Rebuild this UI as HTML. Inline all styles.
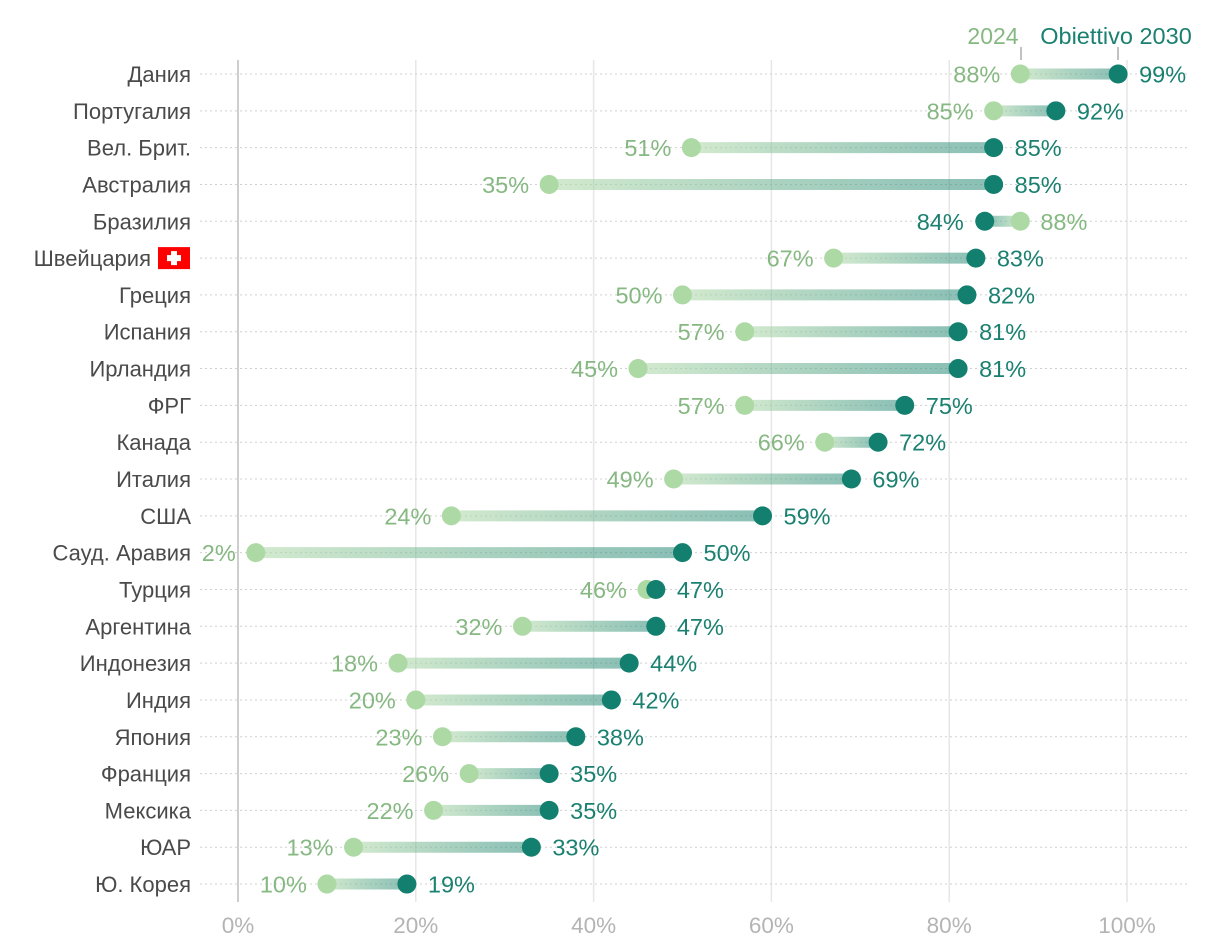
<!DOCTYPE html>
<html><head><meta charset="utf-8"><style>
html,body{margin:0;padding:0;background:#fff;}
svg{display:block;font-family:"Liberation Sans","DejaVu Sans",sans-serif;}
</style></head><body>
<svg id="chart" width="1220" height="946" xmlns="http://www.w3.org/2000/svg">
<defs id="defs"></defs>
<g id="grid"></g><g id="rows"></g><g id="axis"></g>
<g>
<text x="993" y="44" font-size="23" fill="#86b882" text-anchor="middle">2024</text>
<line x1="1021" y1="47" x2="1021" y2="60" stroke="#999" stroke-width="1.2"/>
<text x="1116" y="44" font-size="23.5" fill="#1a8070" text-anchor="middle">Obiettivo 2030</text>
<line x1="1118" y1="47" x2="1118" y2="60" stroke="#999" stroke-width="1.2"/>
</g>
</svg>
<script>
const countries=["Дания","Португалия","Вел. Брит.","Австралия","Бразилия","Швейцария","Греция","Испания","Ирландия","ФРГ","Канада","Италия","США","Сауд. Аравия","Турция","Аргентина","Индонезия","Индия","Япония","Франция","Мексика","ЮАР","Ю. Корея"];
const values2024=[88,85,51,35,88,67,50,57,45,57,66,49,24,2,46,32,18,20,23,26,22,13,10];
const target2030=[99,92,85,85,84,83,82,81,81,75,72,69,59,50,47,47,44,42,38,35,35,33,19];
const ticks=[0,20,40,60,80,100];
const NS="http://www.w3.org/2000/svg";
const x=v=>238+v*8.89;
const y=i=>74+i*36.82;
function mk(t,a,p){const e=document.createElementNS(NS,t);for(const k in a)e.setAttribute(k,a[k]);p.appendChild(e);return e;}
const grid=document.getElementById('grid'),rows=document.getElementById('rows'),axis=document.getElementById('axis'),defs=document.getElementById('defs');
ticks.forEach(t=>{
 const l=mk('line',{x1:x(t),x2:x(t),y1:60,y2:902,stroke:t===0?'#bdbdbd':'#e6e6e6','stroke-width':1.5},grid);
 
 
 const tx=mk('text',{x:x(t),y:933,'font-size':22.5,fill:'#b4b4b4','text-anchor':'middle'},axis);
 tx.textContent=t+'%';
 
 
});
countries.forEach((c,i)=>{
 const yy=y(i);
 const g=mk('g',{},rows);
 
 
 mk('line',{x1:200,x2:1188,y1:yy,y2:yy,stroke:'#d0d0d0','stroke-width':1,'stroke-dasharray':'2 3'},g);
 const isCH=c==="Швейцария";
 const lb=mk('text',{x:isCH?151:191,y:yy+8,'font-size':22,fill:'#4a4a4a','text-anchor':'end'},g);
 lb.textContent=c;
 
 
 if(isCH){
  mk('rect',{x:158,y:yy-11,width:32,height:22,fill:'#ff0000'},g);
  mk('rect',{x:171,y:yy-7,width:6,height:14,fill:'#fff'},g);
  mk('rect',{x:167,y:yy-3,width:14,height:6,fill:'#fff'},g);
 }
 const a=values2024[i],b=target2030[i];
 const gr=mk('linearGradient',{id:'g'+i,gradientUnits:'userSpaceOnUse',x1:x(a),x2:x(b),y1:0,y2:0},defs);
 mk('stop',{offset:0,'stop-color':'#b5dcae','stop-opacity':0.6},gr);
 mk('stop',{offset:1,'stop-color':'#2a8a78','stop-opacity':0.55},gr);
 const bar=mk('line',{x1:x(a),x2:x(b),y1:yy,y2:yy,stroke:'url(#g'+i+')','stroke-width':11},g);
 
 
 const d1=mk('circle',{cx:x(a),cy:yy,r:9.5,fill:'#acd9a4'},g);
 
 
 const d2=mk('circle',{cx:x(b),cy:yy,r:9.5,fill:'#13806f'},g);
 
 
 const up=b>=a;
 const t1=mk('text',{x:up?x(a)-20:x(a)+20,y:yy+8.5,'font-size':23.5,fill:'#86b882','text-anchor':up?'end':'start'},g);
 t1.textContent=a+'%';
 
 
 const t2=mk('text',{x:up?x(b)+21:x(b)-21,y:yy+8.5,'font-size':23.5,fill:'#1a8070','text-anchor':up?'start':'end'},g);
 t2.textContent=b+'%';
 
 
});
</script>
</body></html>
